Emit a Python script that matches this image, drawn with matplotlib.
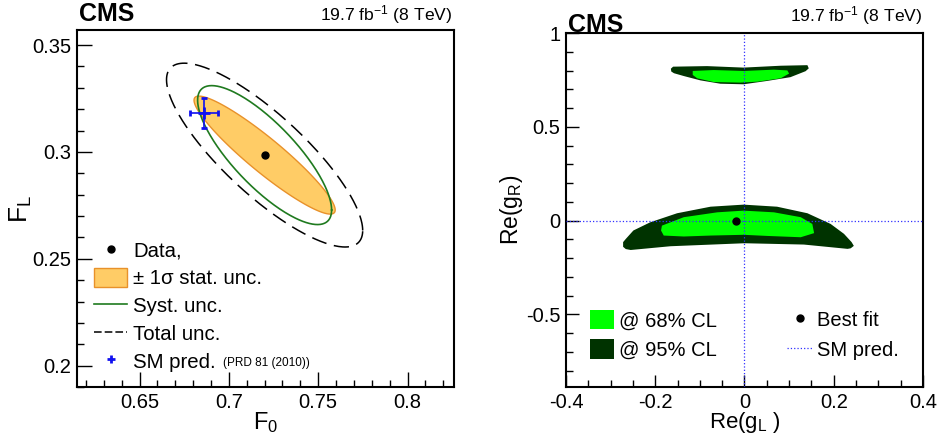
import numpy as np
import matplotlib
matplotlib.use("Agg")
import matplotlib.pyplot as plt
from matplotlib.lines import Line2D
from matplotlib.patches import Patch, Polygon
from matplotlib.ticker import MultipleLocator, FuncFormatter

plt.rcParams["font.family"] = ["Liberation Sans", "DejaVu Sans"]
plt.rcParams["mathtext.fontset"] = "custom"
plt.rcParams["mathtext.rm"] = "Liberation Sans"
plt.rcParams["mathtext.default"] = "regular"

# ---- left panel: helicity fractions ----
data_f0, data_fl = 0.720, 0.2985
stat_sigma = (0.0395, 0.0276)
stat_rho = -0.93
syst_sigma = (0.0375, 0.0325)
syst_rho = -0.79
total_sigma = (0.0549, 0.0430)
total_rho = -0.82
sm_f0, sm_fl = 0.686, 0.318
sm_f0_err, sm_fl_err = 0.008, 0.007

# ---- right panel: anomalous couplings contours ----
up95_x = [-0.165, -0.160, -0.084, -0.002, 0.081, 0.141, 0.144, 0.137, 0.103,
          0.051, -0.002, -0.054, -0.099, -0.136, -0.158, -0.164]
up95_y = [0.810, 0.821, 0.824, 0.816, 0.826, 0.829, 0.812, 0.797, 0.765,
          0.745, 0.727, 0.730, 0.748, 0.771, 0.786, 0.795]
up68_x = [-0.116, -0.069, -0.002, 0.066, 0.096, 0.100, 0.081, 0.029, -0.009,
          -0.069, -0.106, -0.116]
up68_y = [0.798, 0.803, 0.798, 0.805, 0.801, 0.784, 0.759, 0.741, 0.736,
          0.739, 0.759, 0.777]
low95_x = [-0.272, -0.266, -0.249, -0.211, -0.151, -0.076, -0.002, 0.073,
           0.141, 0.193, 0.223, 0.240, 0.245, 0.238, 0.231, 0.133, 0.000,
           -0.166, -0.255, -0.266, -0.272]
low95_y = [-0.115, -0.098, -0.053, -0.009, 0.039, 0.074, 0.085, 0.074,
           0.039, -0.018, -0.071, -0.115, -0.135, -0.148, -0.151, -0.128,
           -0.121, -0.137, -0.157, -0.152, -0.140]
low68_x = [-0.187, -0.185, -0.136, -0.061, -0.002, 0.066, 0.126, 0.152, 0.156,
           0.126, 0.051, -0.002, -0.076, -0.136, -0.181]
low68_y = [-0.053, -0.027, 0.018, 0.044, 0.053, 0.044, 0.018, -0.018, -0.067,
           -0.089, -0.082, -0.076, -0.080, -0.085, -0.080]
best_gl, best_gr = -0.018, -0.005
sm_gl, sm_gr = 0.0, 0.0

fmt = FuncFormatter(lambda v, p: "%g" % round(v, 6))


def ellipse(cx, cy, sx, sy, rho, n=300):
    t = np.linspace(0, 2 * np.pi, n)
    x = cx + sx * np.cos(t)
    y = cy + sy * (rho * np.cos(t) + np.sqrt(1 - rho ** 2) * np.sin(t))
    return x, y


def style_axes(ax):
    for s in ax.spines.values():
        s.set_linewidth(1.5)
    ax.tick_params(which="both", direction="in", top=False, right=False,
                   labelsize=14.5, width=1)
    ax.tick_params(which="major", length=11, pad=4)
    ax.tick_params(which="minor", length=5)
    ax.xaxis.set_major_formatter(fmt)
    ax.yaxis.set_major_formatter(fmt)


fig = plt.figure(figsize=(9.38, 4.38), dpi=100)
ax1 = fig.add_axes([0.0821, 0.1164, 0.4019, 0.815])
ax2 = fig.add_axes([0.6034, 0.1164, 0.3806, 0.808])

# left panel
ex, ey = ellipse(data_f0, data_fl, stat_sigma[0], stat_sigma[1], stat_rho)
ax1.fill(ex, ey, facecolor="#FFCC66", edgecolor="#E8912A", lw=1.0, zorder=2)
sx, sy = ellipse(data_f0, data_fl, syst_sigma[0], syst_sigma[1], syst_rho)
ax1.plot(sx, sy, color="#1F7A1F", lw=1.2, zorder=3)
tx, ty = ellipse(data_f0, data_fl, total_sigma[0], total_sigma[1], total_rho)
ax1.plot(tx, ty, color="black", lw=1.1, ls=(0, (10, 5)), zorder=3)
ax1.plot(data_f0, data_fl, "o", color="black", ms=5, zorder=5)
ax1.errorbar(sm_f0, sm_fl, xerr=sm_f0_err, yerr=sm_fl_err, fmt="+",
             color="#1010F0", ms=8, mew=2, elinewidth=1.2, capsize=2,
             zorder=6)

ax1.set_xlim(0.615, 0.826)
ax1.set_ylim(0.190, 0.357)
ax1.xaxis.set_major_locator(MultipleLocator(0.05))
ax1.xaxis.set_minor_locator(MultipleLocator(0.01))
ax1.yaxis.set_major_locator(MultipleLocator(0.05))
ax1.yaxis.set_minor_locator(MultipleLocator(0.01))
style_axes(ax1)
ax1.set_xlabel("F$_{0}$", fontsize=17, labelpad=-1)
ax1.set_ylabel("F$_{L}$", fontsize=19, labelpad=-1)

handles1 = [
    Line2D([], [], marker="o", color="black", ls="none", ms=5),
    Patch(facecolor="#FFCC66", edgecolor="#E8912A", lw=1.0),
    Line2D([], [], color="#1F7A1F", lw=1.2),
    Line2D([], [], color="black", lw=1.1, ls=(0, (5, 2))),
    Line2D([], [], marker="+", color="#1010F0", ls="none", ms=6, mew=2),
]
labels1 = ["Data,", "\u00b1 1\u03c3 stat. unc.", "Syst. unc.", "Total unc.",
           "SM pred."]
leg1 = ax1.legend(handles1, labels1, loc="upper left",
                  bbox_to_anchor=(0.045, 0.41), frameon=False, fontsize=14.7,
                  handlelength=1.62, handleheight=1.0, handletextpad=0.3,
                  labelspacing=0.37, borderpad=0, borderaxespad=0)

ax1.text(0.005, 1.012, "CMS", transform=ax1.transAxes, fontsize=18,
         fontweight="bold", ha="left", va="bottom")
ax1.text(0.995, 1.012, "19.7 fb$^{-1}$ (8 TeV)", transform=ax1.transAxes,
         fontsize=12.6, ha="right", va="bottom")

# right panel
ax2.add_patch(Polygon(np.column_stack([low95_x, low95_y]), closed=True,
                      facecolor="#003300", edgecolor="none", zorder=2))
ax2.add_patch(Polygon(np.column_stack([low68_x, low68_y]), closed=True,
                      facecolor="#00FF00", edgecolor="none", zorder=3))
ax2.add_patch(Polygon(np.column_stack([up95_x, up95_y]), closed=True,
                      facecolor="#003300", edgecolor="none", zorder=2))
ax2.add_patch(Polygon(np.column_stack([up68_x, up68_y]), closed=True,
                      facecolor="#00FF00", edgecolor="none", zorder=3))
ax2.axvline(sm_gl, color="#3030FF", lw=0.9, ls=":", zorder=4)
ax2.axhline(sm_gr, color="#3030FF", lw=0.9, ls=":", zorder=4)
ax2.plot(best_gl, best_gr, "o", color="black", ms=5, zorder=5)

ax2.set_xlim(-0.4, 0.4)
ax2.set_ylim(-0.888, 1.0)
ax2.xaxis.set_major_locator(MultipleLocator(0.2))
ax2.xaxis.set_minor_locator(MultipleLocator(0.05))
ax2.yaxis.set_major_locator(MultipleLocator(0.5))
ax2.yaxis.set_minor_locator(MultipleLocator(0.1))
style_axes(ax2)
ax2.tick_params(which="major", length=9)
ax2.set_xlabel("Re(g$_{L}$ )", fontsize=16, labelpad=-1)
ax2.set_ylabel("Re(g$_{R}$)", fontsize=16.5, labelpad=1)

handles2 = [
    Patch(facecolor="#00FF00", edgecolor="none"),
    Patch(facecolor="#003300", edgecolor="none"),
    Line2D([], [], marker="o", color="black", ls="none", ms=5),
    Line2D([], [], color="#3030FF", lw=0.9, ls=":"),
]
labels2 = ["@ 68% CL", "@ 95% CL", "Best fit", "SM pred."]
ax2.legend(handles2, labels2, loc="upper left", ncol=2,
           bbox_to_anchor=(0.067, 0.218), frameon=False, fontsize=14.5,
           handlelength=1.2, handleheight=1.1, handletextpad=0.25,
           labelspacing=0.45, columnspacing=3.5, borderpad=0,
           borderaxespad=0)

ax2.text(0.005, 0.99, "CMS", transform=ax2.transAxes, fontsize=18,
         fontweight="bold", ha="left", va="bottom")
ax2.text(0.998, 1.017, "19.7 fb$^{-1}$ (8 TeV)", transform=ax2.transAxes,
         fontsize=12.6, ha="right", va="bottom")

# small reference note after the SM entry of the left legend
fig.canvas.draw()
bb = leg1.get_texts()[-1].get_window_extent()
inv = ax1.transAxes.inverted()
(x1, y0), = inv.transform([[bb.x1, bb.y0]])
ax1.text(x1 + 0.018, y0 + 0.008, "(PRD 81 (2010))", transform=ax1.transAxes,
         fontsize=8.5, ha="left", va="bottom")

fig.savefig("out.png", dpi=100)
